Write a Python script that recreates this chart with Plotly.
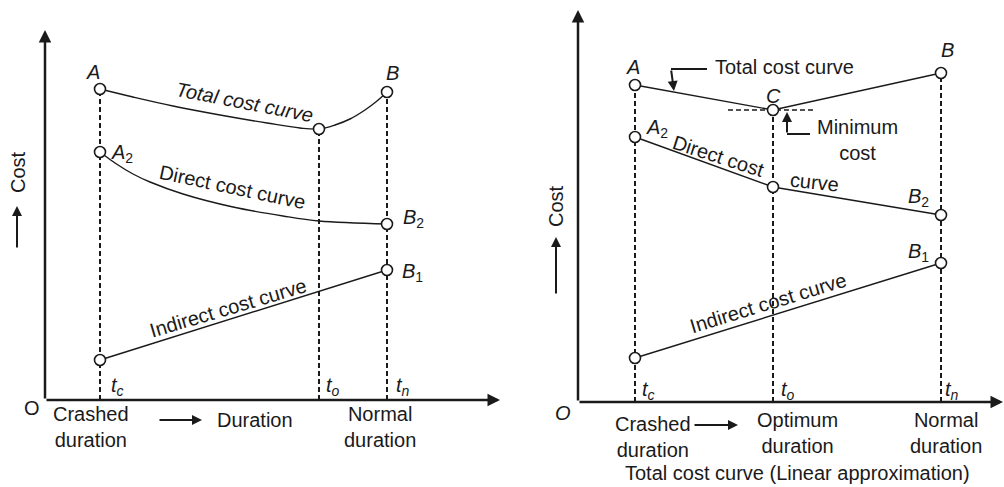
import plotly.graph_objects as go

# ---------------- data (schematic units) ----------------
# Left panel: curved cost curves
L_ticks = [5.5, 27.4, 34.2]                      # t_c, t_o, t_n
L_tick_labels = ["<i>t<sub>c</sub></i>", "<i>t<sub>o</sub></i>", "<i>t<sub>n</sub></i>"]
L_total_x = [5.5, 8.8, 12.8, 17.5, 22.2, 25.5, 27.4, 29.0, 30.5, 32.0, 33.2, 34.2]
L_total_y = [31.1, 30.3, 29.4, 28.5, 27.7, 27.2, 27.1, 27.5, 28.1, 29.0, 29.9, 30.8]
L_direct_x = [5.5, 7.0, 8.8, 10.5, 13.8, 18.8, 23.8, 27.4, 34.2]
L_direct_y = [24.8, 23.7, 22.6, 21.8, 20.6, 19.3, 18.4, 17.9, 17.6]
L_indirect_x = [5.5, 34.2]
L_indirect_y = [4.0, 13.0]
L_pt_x = [5.5, 34.2, 27.4, 5.5, 34.2, 5.5, 34.2]
L_pt_y = [31.1, 30.8, 27.1, 24.8, 17.6, 4.0, 13.0]
L_pt_labels = ["<i>A</i>", "<i>B</i>", "", "<i>A</i><sub>2</sub>", "<i>B</i><sub>2</sub>", "", "<i>B</i><sub>1</sub>"]
L_top = [31.1, 27.1, 30.8]                       # tops of dashed verticals

# Right panel: linear approximation
R_ticks = [5.7, 19.5, 36.3]
R_tick_labels = L_tick_labels
R_total_y = [31.7, 29.2, 32.9]
R_direct_y = [26.5, 21.5, 18.7]
R_indirect_x = [5.7, 36.3]
R_indirect_y = [4.4, 13.9]
R_pt_labels_total = ["<i>A</i>", "<i>C</i>", "<i>B</i>"]
R_pt_labels_direct = ["<i>A</i><sub>2</sub>", "", "<i>B</i><sub>2</sub>"]
R_pt_labels_indirect = ["", "<i>B</i><sub>1</sub>"]

FONT = "Liberation Sans, Arial, sans-serif"
FS = 20
BLACK = "#1a1a1a"

fig = go.Figure()

def dashed(xs, tops, xa, ya):
    for x, t in zip(xs, tops):
        fig.add_trace(go.Scatter(x=[x, x], y=[0, t], mode="lines", xaxis=xa, yaxis=ya,
                                 line=dict(color=BLACK, width=2, dash="5px,3px"),
                                 hoverinfo="skip", showlegend=False))

def curve(xs, ys, xa, ya, shape="linear"):
    fig.add_trace(go.Scatter(x=xs, y=ys, mode="lines", xaxis=xa, yaxis=ya,
                             line=dict(color=BLACK, width=1.4, shape=shape, smoothing=1.0),
                             hoverinfo="skip", showlegend=False))

def points(xs, ys, xa, ya):
    fig.add_trace(go.Scatter(x=xs, y=ys, mode="markers", xaxis=xa, yaxis=ya,
                             marker=dict(size=11, color="white", line=dict(color=BLACK, width=1.6)),
                             hoverinfo="skip", showlegend=False))

# ---- left panel traces
dashed(L_ticks, L_top, "x", "y")
curve(L_total_x, L_total_y, "x", "y", "spline")
curve(L_direct_x, L_direct_y, "x", "y", "spline")
curve(L_indirect_x, L_indirect_y, "x", "y")
points(L_pt_x, L_pt_y, "x", "y")

# ---- right panel traces
dashed(R_ticks, R_total_y, "x2", "y2")
fig.add_trace(go.Scatter(x=[15.0, 23.7], y=[R_total_y[1], R_total_y[1]], mode="lines",
                         xaxis="x2", yaxis="y2", line=dict(color=BLACK, width=1.6, dash="5px,3px"),
                         hoverinfo="skip", showlegend=False))
curve(R_ticks, R_total_y, "x2", "y2")
curve(R_ticks, R_direct_y, "x2", "y2")
curve(R_indirect_x, R_indirect_y, "x2", "y2")
points(R_ticks + R_ticks + R_indirect_x[:1] + R_indirect_x[1:],
       R_total_y + R_direct_y + R_indirect_y, "x2", "y2")

ann = []

def text(x, y, s, xr, yr, angle=0, xanchor="center", yanchor="middle",
         xshift=0, yshift=0, size=FS, align="center"):
    ann.append(dict(x=x, y=y, xref=xr, yref=yr, text=s, showarrow=False, textangle=angle,
                    xanchor=xanchor, yanchor=yanchor, xshift=xshift, yshift=yshift, align=align,
                    font=dict(family=FONT, size=size, color=BLACK)))

def arrow(x0, y0, x1, y1, xr, yr, width=2.5, head=2, size=1.0):
    ann.append(dict(x=x1, y=y1, ax=x0, ay=y0, xref=xr, yref=yr, axref=xr, ayref=yr, text="",
                    showarrow=True, arrowhead=head, arrowsize=size, arrowwidth=width,
                    arrowcolor=BLACK, standoff=0, startstandoff=0))

# ---- left panel axes & labels
arrow(0, 0, 0, 37.0, "x", "y")
arrow(0, 0, 45.5, 0, "x", "y")
arrow(-2.8, 15.1, -2.8, 19.4, "x", "y", width=2)
text(-2.7, 22.8, "Cost", "x", "y", angle=-90)
text(-1.3, -0.8, "O", "x", "y")
L_shift = [(-7, 17), (5, 19), None, (22, -1), (26, 6), None, (25, -2)]
for x, y, s, sh in zip(L_pt_x, L_pt_y, L_pt_labels, L_shift):
    if s:
        text(x, y, s, "x", "y", xshift=sh[0], yshift=sh[1])
for x, s, dx in zip(L_ticks, L_tick_labels, [17, 14, 16]):
    text(x, 0, s, "x", "y", xshift=dx, yshift=14)
text(L_ticks[0], 0, "Crashed<br>duration", "x", "y", xshift=-9, yshift=-27)
text(L_ticks[2], 0, "Normal<br>duration", "x", "y", xshift=-7, yshift=-27)
arrow(11.3, -2.0, 15.7, -2.0, "x", "y", width=2)
text(21.0, -2.0, "Duration", "x", "y")
text(19.9, 29.8, "<i>Total cost curve</i>", "x", "y", angle=11)
text(18.7, 21.3, "Direct cost curve", "x", "y", angle=12)
text(18.3, 9.2, "Indirect cost curve", "x", "y", angle=-16.5)

# ---- right panel axes & labels
arrow(0, 0, 0, 39.2, "x2", "y2")
arrow(0, 0, 42.5, 0, "x2", "y2")
arrow(-2.2, 10.7, -2.2, 16.5, "x2", "y2", width=2)
text(-2.2, 19.6, "Cost", "x2", "y2", angle=-90)
text(-1.5, -1.1, "<i>O</i>", "x2", "y2")
for x, y, s, sh in zip(R_ticks, R_total_y, R_pt_labels_total, [(-2, 18), (0, 14), (6, 23)]):
    text(x, y, s, "x2", "y2", xshift=sh[0], yshift=sh[1])
for x, y, s, sh in zip(R_ticks, R_direct_y, R_pt_labels_direct, [(22, 9), (0, 0), (-23, 18)]):
    if s:
        text(x, y, s, "x2", "y2", xshift=sh[0], yshift=sh[1])
for x, y, s in zip(R_indirect_x, R_indirect_y, R_pt_labels_indirect):
    if s:
        text(x, y, s, "x2", "y2", xshift=-23, yshift=11)
for x, s, dx in zip(R_ticks, R_tick_labels, [13, 15, 11]):
    text(x, 0, s, "x2", "y2", xshift=dx, yshift=12)
text(R_ticks[0], 0, "Crashed<br>duration", "x2", "y2", xshift=18, yshift=-35)
text(R_ticks[1], 0, "Optimum<br>duration", "x2", "y2", xshift=24, yshift=-31)
text(R_ticks[2], 0, "Normal<br>duration", "x2", "y2", xshift=5, yshift=-31)
arrow(11.5, -2.3, 16.0, -2.3, "x2", "y2", width=2)
text(21.9, -7.1, "Total cost curve (Linear approximation)", "x2", "y2")
text(14.0, 24.6, "Direct cost", "x2", "y2", angle=18)
text(23.6, 22.0, "curve", "x2", "y2", angle=6)
text(19.0, 9.9, "Indirect cost curve", "x2", "y2", angle=-17)
# leaders
fig.add_trace(go.Scatter(x=[12.9, 9.3], y=[33.3, 33.3], mode="lines", xaxis="x2", yaxis="y2",
                         line=dict(color=BLACK, width=2), hoverinfo="skip", showlegend=False))
arrow(9.3, 33.3, 9.6, 31.1, "x2", "y2", width=2)
text(13.5, 33.5, "Total cost curve", "x2", "y2", xanchor="left")
fig.add_trace(go.Scatter(x=[23.2, 20.9], y=[26.8, 26.8], mode="lines", xaxis="x2", yaxis="y2",
                         line=dict(color=BLACK, width=2), hoverinfo="skip", showlegend=False))
arrow(20.9, 26.8, 20.9, 29.0, "x2", "y2", width=2)
text(27.9, 26.2, "Minimum<br>cost", "x2", "y2")

ax_common = dict(visible=False, showgrid=False, zeroline=False, fixedrange=True)
fig.update_layout(
    width=1004, height=487, autosize=False,
    margin=dict(l=0, r=0, t=0, b=0),
    paper_bgcolor="white", plot_bgcolor="white",
    showlegend=False,
    xaxis=dict(domain=[0, 0.5], range=[-4.5, 45.7], **ax_common),
    yaxis=dict(domain=[0, 1], range=[-8.7, 40.0], **ax_common),
    xaxis2=dict(domain=[0.5, 1], range=[-7.6, 42.6], anchor="y2", **ax_common),
    yaxis2=dict(domain=[0, 1], range=[-8.5, 40.2], anchor="x2", **ax_common),
    annotations=ann,
    font=dict(family=FONT, size=FS, color=BLACK),
)

fig.write_html("out.html", config={"displayModeBar": False},
               post_script="document.body.style.margin='0';document.body.style.overflow='hidden';")
